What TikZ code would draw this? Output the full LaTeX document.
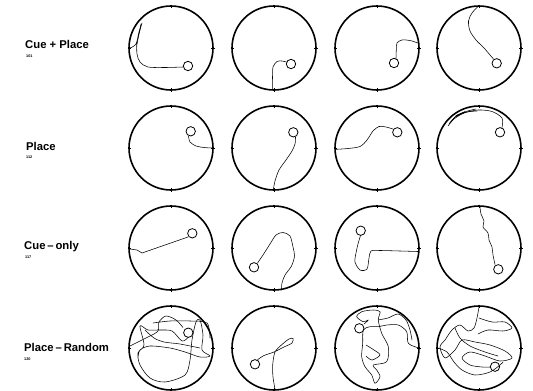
\documentclass[tikz,border=0pt]{standalone}
\usepackage{fontspec}
\setmainfont{Liberation Sans}
\begin{document}
\begin{tikzpicture}[x=1pt,y=-1pt,
  wall/.style={line width=1.6pt},
  tickm/.style={line width=0.6pt},
  goal/.style={line width=0.8pt},
  swim/.style={line width=0.55pt, line join=round, line cap=round},
  lab/.style={font=\fontsize{11.3}{12}\selectfont\bfseries, anchor=base west, inner sep=0pt},
  num/.style={font=\fontsize{3.8}{4}\selectfont\bfseries, anchor=base west, inner sep=0pt}]
\useasboundingbox (0,0) rectangle (533,391);
\newcommand{\arena}[2]{%
  \begin{scope}[shift={(#1,#2)}]
    \draw[wall] (0,0) circle[radius=42];
    \draw[tickm] (0,-43.5)--(0,-40) (0,40)--(0,43.5) (-43.5,0)--(-40,0) (40,0)--(43.5,0);
  \end{scope}}
% labels
\node[lab] (l1) at (25,48.5) {Cue + Place};
\node[num] (n1) at (26,57) {101};
\node[lab] (l2) at (26,150) {Place};
\node[num] (n2) at (26,158.5) {112};
\node[lab] (l3) at (24,249.5) {Cue\,--\,only};
\node[num] (n3) at (25,258) {117};
\node[lab] (l4) at (24,351.5) {Place\,--\,Random};
\node[num] (n4) at (24,360) {120};
% arenas
\foreach \cy in {48,148,248,348}{
  \foreach \cx in {171,274,377,479}{\arena{\cx}{\cy}}}
% ---- row 1
\draw[goal] (188,66) circle[radius=4.7];
\draw[swim] plot[smooth] coordinates {(130,48) (136,44) (139,32) (142,23) (140,30) (137,42) (137,54) (140,62) (148,67) (165,67.5) (183,67)};
\draw[swim] (137,44) -- (141,24);
\draw[goal] (291,64) circle[radius=4.7];
\draw[swim] plot[smooth] coordinates {(272.3,89) (272.5,78) (273,67) (277,61.5) (282,61) (286.5,62)};
\draw[goal] (394,63) circle[radius=4.7];
\draw[swim] plot[smooth] coordinates {(396,58.5) (396.3,50) (397,43) (402,40) (410,40.5) (418,43)};
\draw[goal] (496.7,63.3) circle[radius=4.7];
\draw[swim] plot[smooth] coordinates {(478.5,6) (472,13) (468.5,21) (470,31) (476,40) (484,48) (490,55) (493.5,59)};
% ---- row 2
\draw[goal] (190.7,131.3) circle[radius=4.7];
\draw[swim] plot[smooth] coordinates {(188.5,136) (190,142) (196,146) (204,147.5) (212,148)};
\draw[goal] (293.3,132.3) circle[radius=4.7];
\draw[swim] plot[smooth] coordinates {(273.3,190) (275,181) (279,170) (286,160) (292,151) (295,144) (295.5,137)};
\draw[goal] (397.3,132.3) circle[radius=4.7];
\draw[swim] plot[smooth] coordinates {(336,149.3) (348,148.5) (360,146.5) (367,140) (373,131) (379,126.5) (386,127) (392.7,129)};
\draw[goal] (500,132.3) circle[radius=4.7];
\draw[swim] plot[smooth] coordinates {(448,126) (454,119) (464,113) (478,110) (492,111.5) (502,118) (502,127.5)};
\draw[swim] plot[smooth] coordinates {(449,124) (455,117) (466,111.5) (476,109)};
\draw[swim] plot[smooth] coordinates {(450,123) (457,115.5) (467,112) (477,111)};
\draw[line width=1.4pt] (456,116) -- (465,112);
% ---- row 3
\draw[goal] (192.3,233.3) circle[radius=4.7];
\draw[swim] (130,249) -- (137,250) -- (142,253) -- (188,237);
\draw[goal] (254,267.3) circle[radius=4.7];
\draw[swim] plot[smooth] coordinates {(257.5,263) (263,255) (270,244) (276,235) (283,232.5) (290,236) (293,247) (294.5,256) (291.5,266) (285,275) (282,283) (281.5,290)};
\draw[goal] (360.7,230.7) circle[radius=4.7];
\draw[swim] plot[smooth] coordinates {(360.5,235.5) (358,244) (356,253) (355,262) (360,270) (367,269) (369,258) (371,251) (380,250.5) (400,251) (418,251.5)};
\draw[goal] (498.3,269.3) circle[radius=4.7];
\draw[swim] plot[smooth] coordinates {(480,207) (481,214) (484,221) (483,227) (488,233) (489,240) (492,247) (493,255) (495,264.5)};
% ---- row 4
\draw[goal] (188.3,332.7) circle[radius=4.7];
\draw[swim] plot[smooth] coordinates {(130,346) (142,340) (150,336) (158,331) (159,322) (166,316) (176,320) (183,327.5)};
\draw[swim] plot[smooth] coordinates {(188,337.5) (182,341) (172,331) (160,330) (148,330) (140,326) (144,345) (138,353) (140,365) (150,378) (165,382) (185,375) (190,360) (192,340) (196,322) (200,320) (203,335) (202,350) (210,356) (200,357) (185,352) (170,348) (150,346) (140,350) (138,358)};
\draw[swim] plot[smooth] coordinates {(153,323) (170,321) (190,321) (207,323) (210,338)};
\draw[swim] plot[smooth] coordinates {(145,330) (154,338) (164,342) (180,344) (200,348)};
\draw[goal] (255,364.3) circle[radius=4.7];
\draw[swim] plot[smooth] coordinates {(275,389) (273,377) (272.7,365) (275,352) (282,344.5) (289,339) (293,338.5) (292,343) (284,347) (274,352) (264,355.5) (257.5,359.8)};
\draw[goal] (359.3,328.3) circle[radius=4.7];
\draw[swim] plot[smooth] coordinates {(418,347.7) (408.3,343.3) (406.7,331.7) (398.3,325) (386.7,325) (378.3,326.7) (370,326.7) (363.3,330) (362.7,343.3) (361.7,356.7) (365,366.7) (371.7,375) (375,383.3) (380,376.7) (376.7,370) (373.3,365) (386.7,361.7) (388.3,346.7) (381.7,333.3) (378.3,320) (380,311.7) (373.3,310) (361.7,311.7) (356.7,316.7) (363.3,321.7) (368.3,320) (364,324)};
\draw[swim] plot[smooth] coordinates {(378,320) (388,318) (398,314) (406,320) (410,330) (412,340)};
\draw[swim] plot[smooth] coordinates {(366,345) (374,350) (380,355) (372,360) (366,356)};
\draw[goal] (495,366.7) circle[radius=4.7];
\draw[swim] plot[smooth] coordinates {(479,307) (477,318) (474,328) (468,331) (460,325) (452,330) (445,340) (440,347) (445,358) (455,350) (462,340) (475,342) (490,345) (505,351) (512,358) (500,361) (485,356) (470,352) (462,358) (470,365) (482,367) (490,367)};
\draw[swim] plot[smooth] coordinates {(479,318) (492,322) (505,322) (512,328) (503,331) (488,330) (478,334)};
\draw[swim] plot[smooth] coordinates {(438,348) (447,352) (454,362) (462,370) (475,375) (490,372) (500,365) (503,362)};
\draw[swim] plot[smooth] coordinates {(455,328) (460,338) (470,346) (485,352) (498,356)};
\end{tikzpicture}
\end{document}
